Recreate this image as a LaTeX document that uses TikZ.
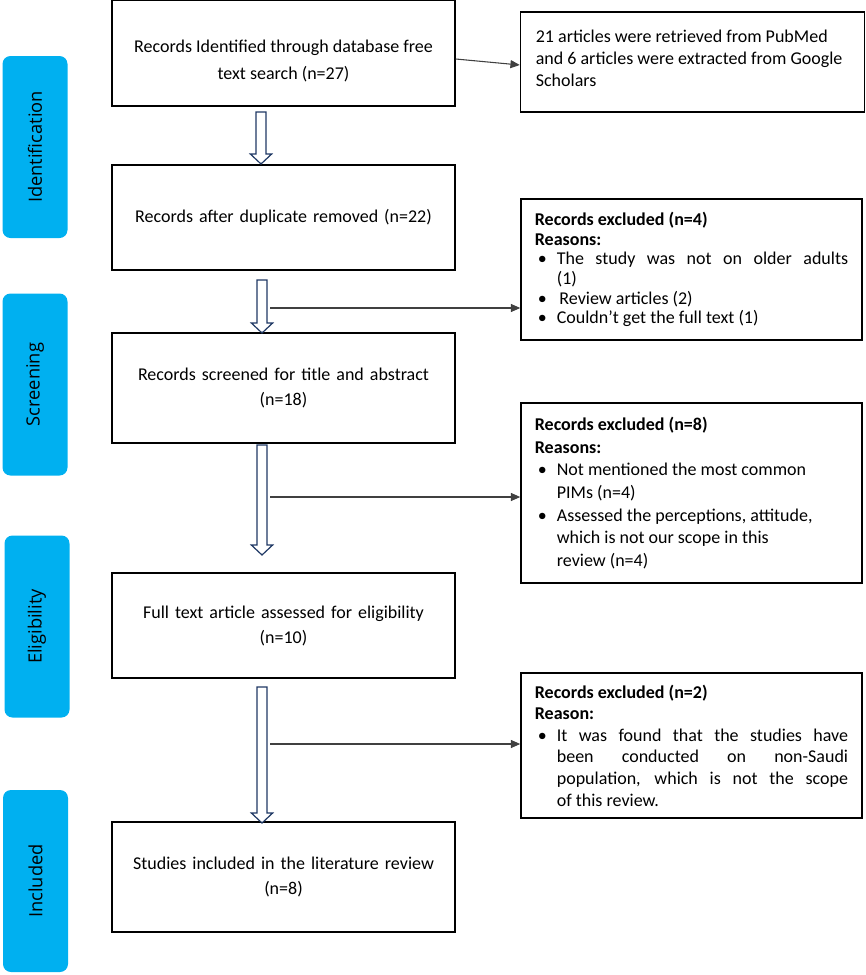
\documentclass[tikz,border=0pt]{standalone}
\usepackage{fontspec}
\setmainfont{Carlito}
\newfontfamily\sidefont{Open Sans}
\usetikzlibrary{arrows.meta,calc}
\definecolor{sideblue}{HTML}{00B0F0}
\definecolor{navy}{HTML}{1F3864}
\newcommand\bul[1]{\par\hangindent=16.5pt\hangafter=1\noindent\makebox[16.5pt][l]{\hspace{2.2pt}\textbullet}#1\par}
\newcommand\harrow[2]{\draw[hol] let \p1=(#1), \p2=(#2) in (\x1-3.75pt,\y1) -- (\x1+3.75pt,\y1) -- (\x1+3.75pt,\y2+7.5pt) -- (\x1+8pt,\y2+7.5pt) -- (\x1,\y2) -- (\x1-8pt,\y2+7.5pt) -- (\x1-3.75pt,\y2+7.5pt) -- cycle;}
\newenvironment{rtext}[1]{\begin{minipage}{235pt}\fontsize{13.5}{#1}\selectfont\parindent=0pt}{\end{minipage}}
\begin{document}
\begin{tikzpicture}[x=0.75pt,y=-0.75pt,
 box/.style={draw=black, line width=1.1pt, minimum width=257.25pt, text width=240pt, align=center, font=\fontsize{13.5}{18.75}\selectfont, inner sep=0pt},
 rbox/.style={draw=black, line width=1.1pt, inner xsep=10.4pt, inner ysep=0pt},
 side/.style={fill=sideblue, rounded corners=6pt, minimum width=136.5pt, minimum height=48.75pt, rotate=90, font=\sidefont\fontsize{13.7}{16}\selectfont, inner sep=0pt},
 thin/.style={draw=black!75, line width=0.8pt, -{Triangle[length=7pt,width=6pt]}},
 hol/.style={draw=navy, fill=white, line width=0.9pt, line join=miter}]
\path[use as bounding box] (0,0) rectangle (865,975);

% side labels
\node[side] (sid) at (35,147) {Identification};
\node[side] (sscr) at (35,384.5) {Screening};
\node[side] (selig) at (37,626.5) {Eligibility};
\node[side] (sinc) at (35.5,881) {Included};

% main boxes
\node[box, minimum height=79.5pt] (b1) at (283.5,53) {};
\node[align=center, font=\fontsize{13.5}{20.25}\selectfont, inner sep=0pt] (b1t) at (283.5,61) {Records Identified through database free\\text search (n=27)};
\node[box, minimum height=78.75pt] (b2) at (283.5,217.5) {Records after duplicate removed (n=22)};
\node[box, minimum height=82.5pt] (b3) at (283.5,388) {Records screened for title and abstract\\(n=18)};
\node[box, minimum height=78.75pt] (b4) at (283.5,625.5) {Full text article assessed for eligibility\\(n=10)};
\node[box, minimum height=82.5pt] (b5) at (283.5,877) {Studies included in the literature review\\(n=8)};

% right boxes
\node[rbox, minimum width=258pt, minimum height=75pt] (r1) at (692.5,62) {\begin{rtext}{16.5}\raggedright 21 articles were retrieved from PubMed\newline and 6 articles were extracted from Google\newline Scholars\vspace*{6pt}\end{rtext}};
\node[rbox, minimum width=255.75pt, minimum height=105.75pt] (r2) at (691.5,269.5) {\begin{rtext}{14.8}\textbf{Records excluded (n=4)}\par\textbf{Reasons:}
\bul{The study was not on older adults\linebreak (1)}
\bul{\hspace{2pt}Review articles (2)}
\bul{Couldn’t get the full text (1)}\end{rtext}};
\node[rbox, minimum width=255.75pt, minimum height=135pt] (r3) at (691.5,493) {\begin{rtext}{17}\raggedright\textbf{Records excluded (n=8)}\par\textbf{Reasons:}
\bul{Not mentioned the most common\newline PIMs (n=4)}
\bul{Assessed the perceptions, attitude,\newline which is not our scope in this\newline review (n=4)}\end{rtext}};
\node[rbox, minimum width=255.75pt, minimum height=108.75pt] (r4) at (691.5,745.5) {\begin{rtext}{16.2}\textbf{Records excluded (n=2)}\par\textbf{Reason:}
\bul{It was found that the studies have\linebreak been conducted on non-Saudi\linebreak population, which is not the scope\linebreak of this review.}\end{rtext}};

% hollow arrows
\coordinate (h1t) at (261,112); \coordinate (h1b) at (261,164);
\coordinate (h2t) at (262,280); \coordinate (h2b) at (262,333);
\coordinate (h3t) at (262,445); \coordinate (h3b) at (262,555);
\coordinate (h4t) at (262,687); \coordinate (h4b) at (262,823);
\harrow{h1t}{h1b}
\harrow{h2t}{h2b}
\harrow{h3t}{h3b}
\harrow{h4t}{h4b}

% thin connectors
\coordinate (c2) at (270,308);
\coordinate (c3) at (270,497);
\coordinate (c4) at (270,744);
\draw[thin] ($(b1.east)+(0,6)$) -- ($(r1.west)+(0,3)$);
\draw[thin] (c2) -- (c2 -| r2.west);
\draw[thin] (c3) -- (c3 -| r3.west);
\draw[thin] (c4) -- (c4 -| r4.west);
\end{tikzpicture}
\end{document}
